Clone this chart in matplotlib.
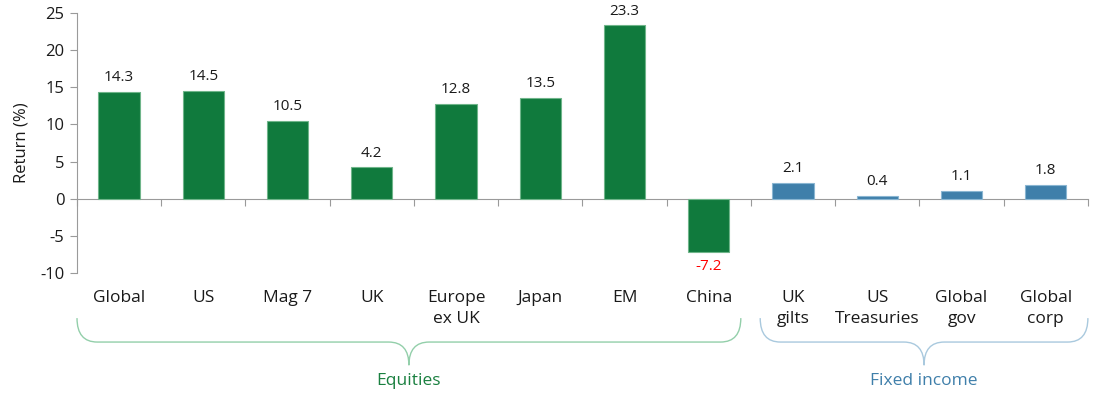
import numpy as np
import matplotlib.pyplot as plt
from matplotlib.path import Path
from matplotlib.patches import PathPatch
import matplotlib.transforms as mtransforms

plt.rcParams['font.family'] = ['Open Sans', 'DejaVu Sans']

# datos
categorias = ["Global", "US", "Mag 7", "UK", "Europe\nex UK", "Japan", "EM", "China",
              "UK\ngilts", "US\nTreasuries", "Global\ngov", "Global\ncorp"]
retornos = [14.3, 14.5, 10.5, 4.2, 12.8, 13.5, 23.3, -7.2, 2.1, 0.4, 1.1, 1.8]
grupos = ["Equities"] * 8 + ["Fixed income"] * 4
yticks = [-10, -5, 0, 5, 10, 15, 20, 25]

verde = "#107a3d"
azul = "#3f7faa"
colores = {"Equities": verde, "Fixed income": azul}
bordes = {"Equities": "#6fb58a", "Fixed income": "#8ab6d2"}
llave_col = {"Equities": "#93cfaa", "Fixed income": "#a9c9de"}
texto_col = {"Equities": "#1a8040", "Fixed income": "#3f7faa"}

fig = plt.figure(figsize=(11, 4.01), dpi=100)
ax = fig.add_axes([0.07, 0.319, 0.919, 0.649])

x = np.arange(len(categorias))
ax.bar(x, retornos, width=0.49,
       color=[colores[g] for g in grupos],
       edgecolor=[bordes[g] for g in grupos], linewidth=0.8, zorder=3)

# etiquetas de valor
for xi, v in zip(x, retornos):
    if v >= 0:
        ax.annotate(f"{v:.1f}", (xi, v), xytext=(0, 5), textcoords="offset points",
                    ha="center", va="bottom", fontsize=11, color="#1a1a1a")
    else:
        ax.annotate(f"{v:.1f}", (xi, v), xytext=(0, -5), textcoords="offset points",
                    ha="center", va="top", fontsize=11, color="#ff0000")

ax.set_xlim(-0.5, len(categorias) - 0.5)
ax.set_ylim(-10, 25)
ax.set_yticks(yticks)
ax.set_yticklabels([str(t) for t in yticks], fontsize=12, color="#1a1a1a")
ax.set_ylabel("Return (%)", fontsize=12, color="#1a1a1a", labelpad=8)

# ejes
for s in ["top", "right"]:
    ax.spines[s].set_visible(False)
ax.spines["bottom"].set_position(("data", 0))
ax.spines["left"].set_color("#9a9a9a")
ax.spines["bottom"].set_color("#9a9a9a")
ax.set_xticks(np.arange(-0.5, len(categorias) + 0.5, 1))
ax.set_xticklabels([])
ax.tick_params(axis="x", direction="out", length=5, color="#9a9a9a")
ax.tick_params(axis="y", direction="out", length=5, color="#9a9a9a", pad=4)

trans = mtransforms.blended_transform_factory(ax.transData, ax.transAxes)

# categorías
for xi, c in zip(x, categorias):
    ax.text(xi, -0.066, c, transform=trans, ha="center", va="top",
            fontsize=12.5, color="#1a1a1a", linespacing=1.4, clip_on=False)

# llaves
def llave(x0, x1, col):
    top, h, tip = -0.173, -0.265, -0.354
    r = 0.24
    mid = (x0 + x1) / 2
    verts = [(x0, top), (x0, h), (x0 + r, h),
             (mid - r, h), (mid, h), (mid, tip),
             (mid, h), (mid + r, h),
             (x1 - r, h), (x1, h), (x1, top)]
    codes = [Path.MOVETO, Path.CURVE3, Path.CURVE3,
             Path.LINETO, Path.CURVE3, Path.CURVE3,
             Path.CURVE3, Path.CURVE3,
             Path.LINETO, Path.CURVE3, Path.CURVE3]
    p = PathPatch(Path(verts, codes), transform=trans, fill=False,
                  edgecolor=col, linewidth=1.0, clip_on=False)
    ax.add_patch(p)
    return mid

m1 = llave(-0.5, 7.38, llave_col["Equities"])
ax.text(m1, -0.385, "Equities", transform=trans, ha="center", va="top",
        fontsize=12.5, color=texto_col["Equities"], clip_on=False)
m2 = llave(7.61, 11.5, llave_col["Fixed income"])
ax.text(m2, -0.385, "Fixed income", transform=trans, ha="center", va="top",
        fontsize=12.5, color=texto_col["Fixed income"], clip_on=False)

fig.savefig("out.png", dpi=100)
